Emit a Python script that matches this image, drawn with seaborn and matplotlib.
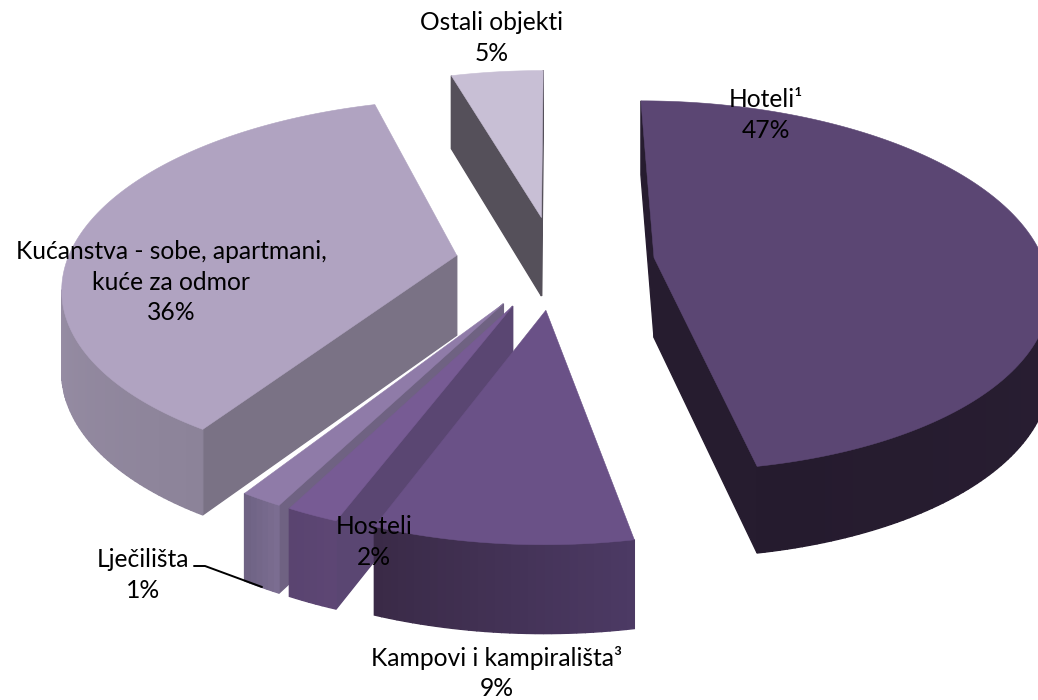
import numpy as np
import seaborn as sns
import matplotlib.pyplot as plt

# share of each accommodation type, clockwise from the top of the pie
kategorije = ["Hoteli¹", "Kampovi i kampirališta³", "Hosteli", "Lječilišta",
              "Kućanstva - sobe, apartmani,\nkuće za odmor", "Ostali objekti"]
udjeli = [47.0, 8.8, 1.8, 1.45, 36.45, 4.5]
postoci = ["47%", "9%", "2%", "1%", "36%", "5%"]

boje_vrh = ["#5b4673", "#6a5187", "#775b94", "#8f7ba8", "#b0a3c1", "#c8bfd5"]
boje_rez = ["#261c2f", "#3f2f4f", "#5a4672", "#6f6282", "#7a7285", "#55505a"]
boje_luk_a = ["#2e2238", "#4c3a64", "#5d4674", "#7b6d91", "#8c8399", "#8f869c"]
boje_luk_b = ["#251b2e", "#3a2a47", "#5a4470", "#6f6384", "#a89db6", "#a89db6"]

label_pos = [(766, 115), (497, 673), (374, 542), (143, 575), (171, 282), (492, 38)]

# perspective of the pie
CX, CY = 555, 262
A, B, DEPTH = 390, 182, 80
P = 0.153
P_DEPTH = 0.08
EXPLODE = 0.256


def project(x, y, z):
    s = 1 / (1 + P * y)
    return CX + A * x * s, CY - B * y * s - DEPTH * z / (1 + P_DEPTH * y)


def face(ax, pts, color):
    xy = [project(*p) for p in pts]
    xs, ys = zip(*xy)
    # skip faces turned away from the viewer
    area = sum(xs[i] * ys[(i + 1) % len(xs)] - xs[(i + 1) % len(xs)] * ys[i] for i in range(len(xs)))
    if area < 0:
        return
    ax.fill(xs, ys, color=color, lw=1.0)


sns.set_theme(style="white")
plt.rcParams["font.family"] = ["Lato", "DejaVu Sans"]

fig = plt.figure(figsize=(10.38, 7), dpi=100)
ax = fig.add_axes([0, 0, 1, 1])
ax.set_xlim(0, 1038)
ax.set_ylim(700, 0)
ax.axis("off")

kraj = np.cumsum(udjeli) * 3.6
pocetak = kraj - np.array(udjeli) * 3.6
sredina = np.radians((pocetak + kraj) / 2)
redoslijed = np.argsort(-np.cos(sredina))

for i in redoslijed:
    ox, oy = EXPLODE * np.sin(sredina[i]), EXPLODE * np.cos(sredina[i])
    kut = np.radians(np.linspace(pocetak[i], kraj[i], int(udjeli[i] * 3.6) + 2))
    rub = [(ox + np.sin(k), oy + np.cos(k)) for k in kut]
    c = (ox, oy)

    # cut faces
    face(ax, [(*rub[0], 0), (*c, 0), (*c, -1), (*rub[0], -1)], boje_rez[i])
    face(ax, [(*c, 0), (*rub[-1], 0), (*rub[-1], -1), (*c, -1)], boje_rez[i])

    # curved outer side, shaded bit by bit
    paleta = sns.blend_palette([boje_luk_a[i], boje_luk_b[i]], len(rub) - 1)
    for j in range(len(rub) - 1):
        face(ax, [(*rub[j + 1], 0), (*rub[j], 0), (*rub[j], -1), (*rub[j + 1], -1)], paleta[j])

    # top
    vrh = [project(*p, 0) for p in [c] + rub]
    ax.fill(*zip(*vrh), color=boje_vrh[i], lw=0.4)

# leader line of the smallest slice
ax.plot([194, 205, 262], [566, 566, 587], color="black", lw=1.4)

for naziv, postotak, (x, y) in zip(kategorije, postoci, label_pos):
    ax.text(x, y, naziv + "\n" + postotak, ha="center", va="center",
            fontsize=17.7, color="black", linespacing=1.4)

fig.savefig("out.png", dpi=100)
